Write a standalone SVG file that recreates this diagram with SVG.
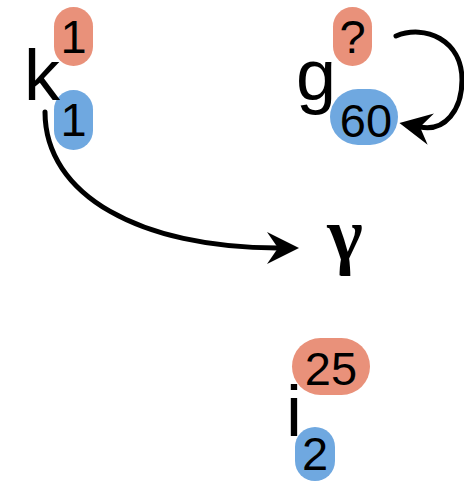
<svg xmlns="http://www.w3.org/2000/svg" width="464" height="481" viewBox="0 0 464 481">
<style>
.var{font-family:"Liberation Sans",Arial,sans-serif;font-size:72px;fill:#000}
.greek{font-family:"Liberation Serif","Times New Roman",serif;font-size:76px;font-weight:bold;fill:#000}
.num{font-family:"Liberation Sans",Arial,sans-serif;font-size:47px;fill:#000;text-anchor:middle}
.red{fill:#E9917A}
.blue{fill:#6FA8E0}
.edge{fill:none;stroke:#000;stroke-width:5;stroke-linecap:round}
</style>
<defs>
<marker id="arrow" markerUnits="userSpaceOnUse" viewBox="0 0 32 32" markerWidth="32" markerHeight="32" refX="11" refY="16" orient="auto">
<path d="M32,16 L0,0 L11,16 L0,32 Z" fill="#000"/>
</marker>
</defs>
<rect width="464" height="481" fill="#fff"/>
<g id="connectors">
<path class="edge" d="M45,112 C45,195 140,248 278,248" marker-end="url(#arrow)"/>
<path class="edge" d="M396,36 C425,24 462,40 462,80 C462,110 445,132 420,127" marker-end="url(#arrow)"/>
</g>
<g id="node-k">
<rect class="red" x="54" y="7" width="39" height="59" rx="19.5"/>
<rect class="blue" x="54" y="90" width="39" height="60" rx="19.5"/>
<text class="var" x="24" y="100">k</text>
<text class="num" x="73.5" y="53">1</text>
<text class="num" x="73.5" y="136">1</text>
</g>
<g id="node-g">
<rect class="red" x="333" y="7" width="39" height="59" rx="19.5"/>
<rect class="blue" x="330" y="89" width="68" height="56" rx="28"/>
<text class="var" x="296" y="100">g</text>
<text class="num" x="352.5" y="53">?</text>
<text class="num" x="366" y="137">60</text>
</g>
<g id="node-gamma">
<text class="greek" x="345" y="260" text-anchor="middle">γ</text>
</g>
<g id="node-i">
<rect class="red" x="292" y="338" width="78" height="57" rx="28.5"/>
<rect class="blue" x="295" y="427" width="40" height="54" rx="20"/>
<text class="var" x="286" y="436">i</text>
<text class="num" x="331" y="385">25</text>
<text class="num" x="315" y="470">2</text>
</g>
</svg>
